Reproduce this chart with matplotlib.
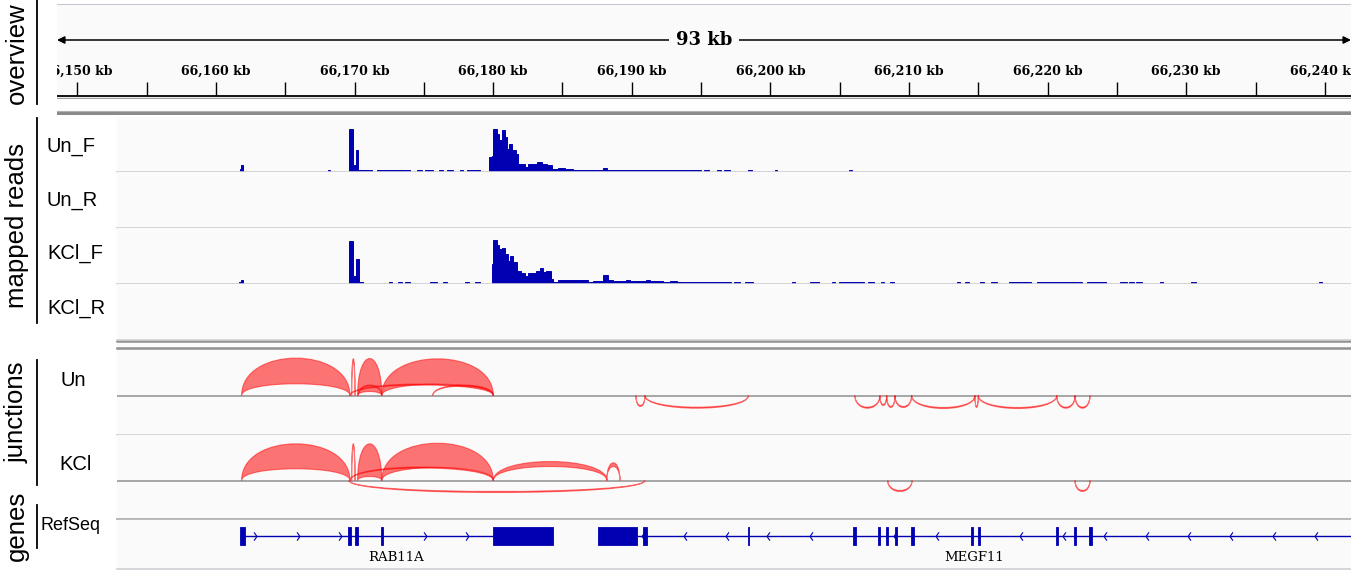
import numpy as np
import matplotlib
matplotlib.use("Agg")
import matplotlib.pyplot as plt
from matplotlib.path import Path
from matplotlib.patches import PathPatch

plt.rcParams['font.family'] = ['Liberation Sans', 'DejaVu Sans']

W, H = 1351, 571
BASE_KB = 66150          # all positions below are kb offsets from 66,150 kb
RULER_START = -1.47
VIEW_START = 2.86
VIEW_END = 91.89

RULER_TICKS = [0, 5, 10, 15, 20, 25, 30, 35, 40, 45, 50, 55, 60, 65, 70, 75, 80, 85, 90]
RULER_LABELS = [0, 10, 20, 30, 40, 50, 60, 70, 80, 90]

# coverage, Un forward strand
UNF_START = [11.73, 11.80, 18.06, 19.60, 19.86, 19.96, 20.08, 20.27, 21.59, 22.41, 22.70, 24.48, 25.08,
             26.09, 26.64, 27.60, 28.09, 29.72, 29.91, 30.00, 30.25, 30.44, 30.61, 30.85, 30.97, 31.16,
             31.33, 31.65, 31.81, 32.29, 32.53, 33.14, 33.50, 33.86, 34.22, 34.70, 35.18, 35.78, 37.94,
             38.19, 39.63, 40.35, 42.27, 42.76, 43.24, 44.70, 45.20, 46.14, 46.65, 48.38, 50.34, 55.67]
UNF_END = [11.80, 11.95, 18.22, 19.86, 19.96, 20.08, 20.27, 21.26, 22.41, 22.70, 24.00, 24.84, 25.66,
           26.38, 27.10, 27.82, 29.05, 29.91, 30.00, 30.25, 30.44, 30.61, 30.85, 30.97, 31.16, 31.33,
           31.65, 31.81, 32.29, 32.53, 33.14, 33.50, 33.86, 34.22, 34.70, 35.18, 35.78, 37.94, 38.19,
           39.63, 40.35, 42.27, 42.76, 43.24, 44.70, 45.00, 45.60, 46.43, 47.08, 48.67, 50.48, 55.89]
UNF_DEPTH = [3, 7, 1.6, 43, 1.6, 7, 22, 1.6, 1.6, 2.3, 1.6, 1.6, 1.6,
             2.3, 1.6, 1.6, 1.6, 15, 16, 43, 38, 32, 42, 35, 23, 28,
             22, 18, 8, 5, 7.7, 10, 8, 7, 3, 4, 3, 2.3, 4,
             2.3, 1.6, 2.3, 1.6, 2.3, 1.6, 2.3, 1.6, 1.6, 1.6, 1.6, 1.6, 1.6]

# coverage, KCl forward strand
KCLF_START = [11.68, 11.78, 19.60, 19.86, 19.96, 20.08, 20.29, 22.50, 23.15, 23.64, 25.44, 26.40, 27.97,
              28.69, 29.89, 30.00, 30.25, 30.44, 30.61, 30.85, 31.09, 31.21, 31.45, 31.74, 31.98, 32.29,
              32.53, 33.07, 33.36, 33.60, 33.84, 34.15, 34.32, 34.68, 36.84, 37.20, 37.94, 38.29, 38.65,
              39.60, 39.90, 41.00, 41.30, 42.27, 42.76, 43.24, 43.84, 44.92, 45.30, 47.34, 48.17, 51.56,
              52.89, 54.45, 54.95, 55.50, 55.90, 57.04, 57.98, 58.61, 63.46, 64.01, 65.09, 65.95, 67.25,
              67.90, 68.20, 69.23, 69.90, 70.80, 71.50, 72.85, 75.22, 75.87, 76.36, 78.11, 80.35, 89.55]
KCLF_END = [11.78, 11.97, 19.86, 19.96, 20.08, 20.29, 20.58, 22.70, 23.40, 24.00, 25.92, 26.64, 28.28,
            29.05, 30.00, 30.25, 30.44, 30.61, 30.85, 31.09, 31.21, 31.45, 31.74, 31.98, 32.29, 32.53,
            33.07, 33.36, 33.60, 33.84, 34.15, 34.32, 34.68, 36.84, 37.20, 37.94, 38.29, 38.65, 39.60,
            39.90, 41.00, 41.30, 42.27, 42.76, 43.24, 43.84, 44.92, 45.30, 47.15, 47.81, 48.74, 51.81,
            53.51, 54.66, 55.50, 55.90, 56.75, 57.44, 58.23, 58.92, 63.68, 64.33, 65.41, 66.33, 67.90,
            68.20, 68.80, 69.90, 70.80, 71.50, 72.48, 74.22, 75.73, 76.20, 76.80, 78.36, 80.68, 89.80]
KCLF_DEPTH = [2, 4, 42.7, 1.6, 7.7, 25, 1.6, 1.6, 1.6, 1.6, 1.6, 1.6, 1.6,
              1.6, 20, 44, 39, 35, 36, 30, 23, 28, 22, 13, 11, 8,
              11, 13, 16, 12, 13, 5, 2.3, 4, 2.3, 3, 9, 4, 3,
              4, 3, 4, 3, 2.3, 3, 2.3, 1.6, 2.3, 1.6, 1.6, 1.6, 1.6,
              1.6, 1.6, 2, 2.5, 2, 1.6, 1.6, 1.6, 1.6, 1.6, 1.6, 1.6, 2,
              2.5, 2, 2.5, 2, 2.5, 2, 1.6, 1.6, 2.5, 1.6, 1.6, 1.6, 1.6]

# splice junctions (outer / inner arc height, strand)
UN_J_START = [11.85, 19.79, 20.22, 21.96, 19.67, 20.27, 25.64, 40.30, 40.95, 56.10, 57.90, 58.39, 58.99,
              60.19, 64.76, 65.00, 70.66, 71.98]
UN_J_END = [19.67, 20.03, 21.96, 30.01, 30.01, 21.96, 30.01, 40.95, 48.41, 57.90, 58.39, 58.99, 60.19,
            64.76, 65.00, 70.66, 71.98, 73.06]
UN_J_OUTER = [37.4, 37, 37, 36.7, 11.5, 10.5, 10.5, 11, 12.7, 12.7, 10, 12, 12, 13, 12, 13, 12.7, 12.7]
UN_J_INNER = [11.7, 34, 4, 11.3, 10.5, 9.5, 9.5, 10, 11.7, 11.7, 9, 11, 11, 12, 11, 12, 11.7, 11.7]
UN_J_STRAND = ['+', '+', '+', '+', '+', '+', '+', '-', '-', '-', '-', '-', '-', '-', '-', '-', '-', '-']

KCL_J_START = [11.85, 19.79, 20.22, 21.96, 30.01, 38.19, 19.67, 19.60, 58.47, 71.98]
KCL_J_END = [19.67, 20.03, 21.96, 30.01, 38.21, 39.15, 30.01, 40.95, 60.22, 73.06]
KCL_J_OUTER = [36.7, 37, 36.7, 37.3, 19, 17.7, 13.5, 12, 11, 11]
KCL_J_INNER = [11.7, 34, 4, 13, 14, 14, 12.5, 11, 10, 10]
KCL_J_STRAND = ['+', '+', '+', '+', '+', '+', '+', '-', '-', '-']

# RefSeq genes
RAB11A_SPAN = (11.73, 34.31)
RAB11A_EXONS = [(11.73, 12.08), (19.55, 19.72), (20.03, 20.27), (21.88, 22.03), (30.02, 34.29)]
RAB11A_ARROWS = [12.81, 15.92, 18.95, 25.08, 28.11]
MEGF11_SPAN = (37.58, 95.0)
MEGF11_EXONS = [(37.58, 40.35), (40.83, 41.08), (48.35, 48.46), (55.99, 56.21), (57.76, 57.91),
                (58.34, 58.49), (58.99, 59.13), (60.18, 60.34), (64.47, 64.59), (65.01, 65.15),
                (70.61, 70.76), (71.89, 72.02), (73.02, 73.18)]
MEGF11_ARROWS = [40.83, 43.84, 46.87, 49.86, 52.93, 58.99, 62.02, 68.08, 71.15, 74.14, 77.17, 80.20,
                 83.23, 86.31, 89.36]

BLUE = '#0000b2'
PANEL_BG = '#fafafa'

fig = plt.figure(figsize=(W / 100, H / 100), dpi=100)
fig.patch.set_facecolor('white')


def px_axes(x0, y0, x1, y1):
    return fig.add_axes([x0 / W, 1 - y1 / H, (x1 - x0) / W, (y1 - y0) / H])


def kb(v):
    return BASE_KB + np.asarray(v, dtype=float)


# page overlay: panel names, separators
bg = px_axes(0, 0, W, H)
bg.set_xlim(0, W)
bg.set_ylim(H, 0)
bg.axis('off')
for label, yc, (ya, yb) in [('overview', 53.5, (0, 104)), ('mapped reads', 225, (118, 323)),
                            ('junctions', 412, (360, 485)), ('genes', 526, (505, 548))]:
    bg.text(17, yc, label, rotation=90, ha='center', va='center', fontsize=18.5)
    bg.plot([36.5, 36.5], [ya, yb], color='black', lw=1.3)
bg.fill_between([57, W], 110.5, 115, color='#8a8a8a', lw=0)
bg.plot([57, W], [111, 111], color='#b0b0b0', lw=0.8)
bg.fill_between([117, W], 340, 350, color=PANEL_BG, lw=0)
bg.plot([117, W], [341.2, 341.2], color='#909090', lw=1.8)
bg.plot([117, W], [348.3, 348.3], color='#909090', lw=1.8)
for name, yc in [('Un_F', 146), ('Un_R', 200), ('KCl_F', 253), ('KCl_R', 308)]:
    bg.text(47, yc, name, ha='left', va='center', fontsize=14.5)
bg.text(73, 381, 'Un', ha='center', va='center', fontsize=14.5)
bg.text(76, 465, 'KCl', ha='center', va='center', fontsize=14.5)
bg.text(41, 525, 'RefSeq', ha='left', va='center', fontsize=13)

# ruler
ru = px_axes(57, 4, W, 99)
ru.set_facecolor(PANEL_BG)
ru.set_xlim(kb(RULER_START), kb(VIEW_END))
ru.set_ylim(99, 4)
ru.set_xticks([])
ru.set_yticks([])
for s in ['left', 'right', 'bottom']:
    ru.spines[s].set_visible(False)
ru.spines['top'].set_color('#c8c8d2')
ru.annotate('', xy=(kb(RULER_START), 40), xytext=(kb(VIEW_END), 40),
            arrowprops=dict(arrowstyle='<|-|>', color='black', lw=1.1, mutation_scale=11,
                            shrinkA=0, shrinkB=0))
ru.text(kb((RULER_START + VIEW_END) / 2), 40, f'{round(VIEW_END - RULER_START)} kb',
        ha='center', va='center', fontsize=13, fontweight='bold', family='DejaVu Serif',
        bbox=dict(facecolor=PANEL_BG, edgecolor='none', pad=5))
ru.vlines(kb(RULER_TICKS), 82, 95, color='black', lw=1)
for t in RULER_LABELS:
    ru.text(kb(t), 71.5, f'{BASE_KB + t:,} kb', ha='center', va='center', fontsize=9,
            fontweight='bold', family='DejaVu Serif', clip_on=True)
ru.axhline(96, color='black', lw=1.3)
ru.axhline(98.3, color='#a0a0a0', lw=1)


def style_track(ax):
    ax.set_facecolor(PANEL_BG)
    ax.set_xlim(kb(VIEW_START), kb(VIEW_END))
    ax.set_xticks([])
    ax.set_yticks([])
    for s in ['left', 'right', 'top']:
        ax.spines[s].set_visible(False)
    ax.spines['bottom'].set_color('#cfcfd4')
    ax.spines['bottom'].set_linewidth(1.2)


# coverage tracks
coverage = [((117, 172), UNF_START, UNF_END, UNF_DEPTH), ((172, 228), [], [], []),
            ((228, 284), KCLF_START, KCLF_END, KCLF_DEPTH), ((284, 340), [], [], [])]
for (y0, y1), st, en, dp in coverage:
    ax = px_axes(117, y0, W, y1)
    style_track(ax)
    ax.set_ylim(0, y1 - y0)
    if st:
        st = np.array(st)
        en = np.array(en)
        ax.bar(kb(st), dp, width=en - st, align='edge', color=BLUE, edgecolor=BLUE, lw=0.7)


def draw_junctions(ax, starts, ends, outer, inner, strands):
    for a, b, ho, hi, s in zip(starts, ends, outer, inner, strands):
        sign = 1 if s == '+' else -1
        a, b = kb(a), kb(b)
        co, ci = sign * ho * 4 / 3, sign * hi * 4 / 3
        verts = [(a, 0), (a, co), (b, co), (b, 0), (b, ci), (a, ci), (a, 0), (a, 0)]
        codes = [Path.MOVETO, Path.CURVE4, Path.CURVE4, Path.CURVE4,
                 Path.CURVE4, Path.CURVE4, Path.CURVE4, Path.CLOSEPOLY]
        ax.add_patch(PathPatch(Path(verts, codes), facecolor=(1, 0.05, 0.05, 0.57),
                               edgecolor=(1, 0, 0, 0.5), lw=0.8))


ju = px_axes(117, 349.5, W, 434.5)
style_track(ju)
ju.set_ylim(-39, 46)
ju.axhline(0, color='#a0a0a0', lw=1.3, zorder=0)
draw_junctions(ju, UN_J_START, UN_J_END, UN_J_OUTER, UN_J_INNER, UN_J_STRAND)

jk = px_axes(117, 434.5, W, 519)
style_track(jk)
jk.set_ylim(-38.5, 46)
jk.axhline(0, color='#a0a0a0', lw=1.3, zorder=0)
draw_junctions(jk, KCL_J_START, KCL_J_END, KCL_J_OUTER, KCL_J_INNER, KCL_J_STRAND)

# genes
ge = px_axes(117, 519, W, 568.5)
style_track(ge)
ge.spines['top'].set_visible(True)
ge.spines['top'].set_color('#b0b0b0')
ge.spines['top'].set_linewidth(1.2)
ge.set_ylim(568.5, 519)
right_chev = Path([(-0.35, 1), (0.35, 0), (-0.35, -1)], [Path.MOVETO, Path.LINETO, Path.LINETO])
left_chev = Path([(0.35, 1), (-0.35, 0), (0.35, -1)], [Path.MOVETO, Path.LINETO, Path.LINETO])
lo, hi = kb(VIEW_START), kb(VIEW_END)
for name, span, exons, arrows, chev in [('RAB11A', RAB11A_SPAN, RAB11A_EXONS, RAB11A_ARROWS, right_chev),
                                        ('MEGF11', MEGF11_SPAN, MEGF11_EXONS, MEGF11_ARROWS, left_chev)]:
    ge.hlines(536.5, kb(span[0]), kb(span[1]), color=BLUE, lw=1)
    ge.broken_barh([(kb(a), b - a) for a, b in exons], (527.5, 18), facecolors=BLUE,
                   edgecolors=BLUE, lw=0.6)
    ge.plot(kb(arrows), [536.5] * len(arrows), ls='none', marker=chev, ms=6,
            mfc='none', mec=BLUE, mew=0.8)
    mid = (max(kb(span[0]), lo) + min(kb(span[1]), hi)) / 2
    ge.text(mid, 557.5, name, ha='center', va='center', fontsize=9.5, family='DejaVu Serif')

fig.savefig('out.png', dpi=100, facecolor='white')
